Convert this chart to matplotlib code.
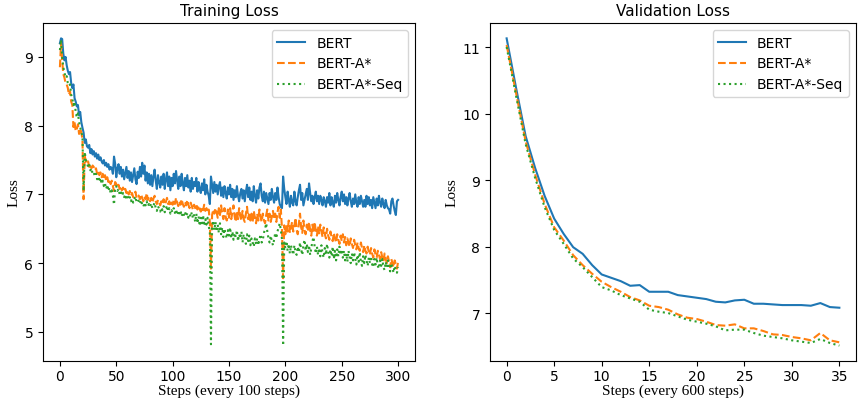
import matplotlib
matplotlib.use("Agg")
import matplotlib.pyplot as plt
import numpy as np

labels = ['BERT', 'BERT-A*', 'BERT-A*-Seq']
styles = ['-', '--', ':']

# training loss, one value per logged step (every 100 steps), steps 0..300
train_bert = [
    9.20, 9.27, 9.26, 9.05, 8.95, 9.00, 8.88, 8.80, 8.75, 8.78,
    8.62, 8.55, 8.60, 8.40, 8.35, 8.28, 8.30, 8.15, 8.20, 8.05,
    7.97, 7.90, 7.75, 7.80, 7.70, 7.68, 7.72, 7.60, 7.66, 7.58,
    7.63, 7.55, 7.60, 7.52, 7.58, 7.50, 7.54, 7.48, 7.45, 7.50,
    7.42, 7.46, 7.40, 7.44, 7.36, 7.40, 7.38, 7.30, 7.55, 7.45,
    7.25, 7.38, 7.44, 7.30, 7.40, 7.26, 7.36, 7.22, 7.31, 7.40,
    7.24, 7.34, 7.20, 7.32, 7.18, 7.28, 7.38, 7.22, 7.15, 7.33,
    7.24, 7.40, 7.26, 7.46, 7.30, 7.42, 7.20, 7.32, 7.16, 7.30,
    7.14, 7.28, 7.12, 7.26, 7.36, 7.20, 7.08, 7.28, 7.18, 7.10,
    7.26, 7.14, 7.30, 7.08, 7.22, 7.32, 7.12, 7.26, 7.06, 7.24,
    7.12, 7.30, 7.16, 7.34, 7.20, 7.08, 7.26, 7.12, 7.30, 7.16,
    7.06, 7.24, 7.12, 7.28, 7.10, 7.20, 7.04, 7.24, 7.08, 7.18,
    7.12, 7.24, 7.04, 7.18, 7.08, 7.02, 7.16, 7.06, 7.22, 7.00,
    7.14, 7.04, 6.98, 6.86, 7.26, 7.14, 7.02, 7.18, 7.04, 7.14,
    7.00, 7.12, 7.18, 6.98, 7.10, 6.96, 7.12, 7.02, 6.94, 7.10,
    7.00, 7.14, 6.96, 7.08, 6.92, 7.06, 6.96, 7.12, 6.98, 6.90,
    7.02, 7.08, 6.94, 7.06, 6.90, 7.04, 7.14, 6.96, 7.10, 6.92,
    7.04, 6.90, 7.12, 6.98, 6.88, 7.06, 6.94, 7.10, 7.16, 6.98,
    6.90, 7.04, 6.88, 7.02, 6.94, 6.86, 7.02, 6.92, 7.08, 6.96,
    6.88, 7.02, 6.92, 7.10, 6.96, 6.86, 6.82, 6.80, 7.26, 7.08,
    6.96, 6.86, 7.04, 6.92, 6.82, 6.98, 6.88, 6.84, 7.04, 6.90,
    6.84, 6.96, 7.06, 7.14, 6.92, 7.02, 6.84, 6.92, 7.00, 7.08,
    6.92, 7.16, 7.02, 6.90, 6.98, 6.86, 6.96, 7.04, 6.90, 6.98,
    6.86, 6.98, 6.92, 6.84, 6.96, 6.90, 6.82, 6.96, 6.88, 7.02,
    6.84, 6.96, 6.88, 6.82, 6.98, 6.88, 7.02, 6.92, 6.84, 6.96,
    7.04, 6.90, 7.00, 6.86, 6.96, 6.84, 6.94, 7.02, 6.90, 6.82,
    6.94, 6.86, 7.00, 6.88, 6.82, 6.96, 6.86, 6.98, 6.90, 6.82,
    6.92, 6.82, 6.98, 6.86, 6.96, 6.84, 6.92, 6.80, 6.96, 6.88,
    6.80, 6.94, 6.84, 6.98, 6.88, 6.82, 6.94, 6.86, 6.80, 6.92,
    6.84, 6.80, 6.78, 6.72, 6.90, 6.94, 6.84, 6.76, 6.70, 6.90,
    6.92,
]
train_astar = [
    8.85, 9.20, 8.95, 8.75, 8.70, 8.62, 8.60, 8.55, 8.45, 8.50,
    8.35, 8.30, 7.98, 8.05, 7.92, 7.95, 8.02, 7.88, 7.96, 7.90,
    7.80, 6.93, 7.55, 7.50, 7.45, 7.48, 7.40, 7.44, 7.38, 7.42,
    7.40, 7.35, 7.38, 7.30, 7.34, 7.28, 7.32, 7.25, 7.30, 7.22,
    7.28, 7.20, 7.25, 7.18, 7.22, 7.15, 7.20, 7.12, 7.05, 7.18,
    7.15, 7.10, 7.14, 7.08, 7.12, 7.06, 7.10, 7.04, 7.08, 7.02,
    7.06, 7.00, 7.05, 6.98, 7.02, 6.96, 7.00, 7.04, 6.95, 6.99,
    6.98, 6.93, 7.00, 6.95, 6.90, 6.97, 6.93, 7.02, 6.92, 6.96,
    6.90, 6.95, 6.88, 6.94, 6.98, 6.90, 6.86, 6.92, 6.88, 6.84,
    6.90, 6.86, 6.93, 6.85, 6.89, 6.95, 6.86, 6.90, 6.83, 6.88,
    6.85, 6.92, 6.86, 6.95, 6.88, 6.83, 6.90, 6.85, 6.93, 6.86,
    6.82, 6.89, 6.84, 6.92, 6.85, 6.80, 6.88, 6.83, 6.78, 6.85,
    6.80, 6.86, 6.78, 6.84, 6.79, 6.75, 6.82, 6.77, 6.85, 6.76,
    6.80, 6.74, 6.78, 6.60, 5.92, 6.70, 6.78, 6.72, 6.80, 6.74,
    6.66, 6.80, 6.70, 6.84, 6.72, 6.64, 6.80, 6.68, 6.62, 6.78,
    6.66, 6.80, 6.64, 6.74, 6.84, 6.68, 6.60, 6.76, 6.64, 6.80,
    6.68, 6.62, 6.76, 6.64, 6.60, 6.72, 6.82, 6.64, 6.74, 6.62,
    6.72, 6.60, 6.76, 6.66, 6.58, 6.72, 6.62, 6.78, 6.66, 6.60,
    6.72, 6.62, 6.58, 6.70, 6.78, 6.62, 6.72, 6.60, 6.68, 6.76,
    6.64, 6.72, 6.60, 6.74, 6.82, 6.66, 6.78, 6.50, 5.78, 6.55,
    6.42, 6.56, 6.46, 6.62, 6.44, 6.52, 6.60, 6.46, 6.54, 6.66,
    6.48, 6.42, 6.58, 6.72, 6.52, 6.44, 6.62, 6.48, 6.42, 6.56,
    6.46, 6.60, 6.48, 6.40, 6.56, 6.44, 6.60, 6.46, 6.40, 6.54,
    6.42, 6.56, 6.46, 6.38, 6.52, 6.42, 6.36, 6.50, 6.40, 6.34,
    6.46, 6.38, 6.32, 6.44, 6.36, 6.30, 6.42, 6.34, 6.28, 6.40,
    6.32, 6.42, 6.30, 6.38, 6.26, 6.36, 6.30, 6.24, 6.36, 6.28,
    6.22, 6.34, 6.26, 6.20, 6.30, 6.22, 6.18, 6.30, 6.22, 6.16,
    6.26, 6.18, 6.14, 6.24, 6.16, 6.12, 6.22, 6.14, 6.08, 6.20,
    6.12, 6.08, 6.18, 6.12, 6.06, 6.16, 6.08, 6.02, 6.14, 6.06,
    6.00, 6.10, 6.02, 5.94, 6.06, 6.00, 5.94, 6.04, 5.98, 5.92,
    6.02,
]
train_astar_seq = [
    9.10, 9.25, 9.00, 8.85, 8.78, 8.70, 8.72, 8.62, 8.58, 8.60,
    8.45, 8.40, 8.30, 8.35, 8.20, 8.12, 8.18, 8.05, 7.98, 7.90,
    7.85, 7.05, 7.62, 7.50, 7.46, 7.40, 7.44, 7.35, 7.38, 7.30,
    7.32, 7.26, 7.30, 7.22, 7.26, 7.18, 7.24, 7.15, 7.20, 7.12,
    7.16, 7.08, 7.14, 7.05, 7.10, 7.02, 7.06, 6.98, 6.85, 7.10,
    7.12, 7.05, 7.08, 7.00, 7.04, 6.98, 7.02, 6.96, 7.00, 6.94,
    6.98, 6.92, 6.96, 6.90, 6.94, 6.88, 6.93, 6.97, 6.89, 6.92,
    6.90, 6.86, 6.92, 6.85, 6.82, 6.88, 6.84, 6.90, 6.83, 6.86,
    6.82, 6.87, 6.80, 6.84, 6.88, 6.80, 6.76, 6.83, 6.79, 6.75,
    6.81, 6.77, 6.83, 6.74, 6.79, 6.84, 6.75, 6.80, 6.72, 6.77,
    6.74, 6.80, 6.73, 6.78, 6.70, 6.75, 6.71, 6.77, 6.68, 6.74,
    6.70, 6.75, 6.68, 6.73, 6.66, 6.71, 6.67, 6.74, 6.65, 6.70,
    6.60, 6.72, 6.58, 6.68, 6.54, 6.66, 6.58, 6.70, 6.54, 6.64,
    6.56, 6.66, 6.54, 6.45, 4.82, 6.52, 6.62, 6.48, 6.60, 6.46,
    6.56, 6.44, 6.58, 6.42, 6.52, 6.38, 6.50, 6.42, 6.36, 6.48,
    6.40, 6.52, 6.36, 6.46, 6.34, 6.44, 6.38, 6.48, 6.32, 6.42,
    6.36, 6.46, 6.30, 6.42, 6.34, 6.28, 6.42, 6.32, 6.40, 6.26,
    6.36, 6.30, 6.24, 6.36, 6.28, 6.36, 6.26, 6.34, 6.42, 6.30,
    6.34, 6.44, 6.50, 6.58, 6.46, 6.36, 6.30, 6.40, 6.32, 6.26,
    6.34, 6.44, 6.36, 6.46, 6.52, 6.58, 6.48, 6.35, 4.80, 6.30,
    6.22, 6.32, 6.18, 6.28, 6.14, 6.26, 6.18, 6.12, 6.26, 6.16,
    6.12, 6.24, 6.16, 6.30, 6.20, 6.12, 6.26, 6.34, 6.18, 6.28,
    6.16, 6.26, 6.12, 6.22, 6.32, 6.38, 6.24, 6.14, 6.24, 6.12,
    6.22, 6.10, 6.26, 6.14, 6.08, 6.22, 6.12, 6.28, 6.16, 6.08,
    6.20, 6.10, 6.24, 6.06, 6.18, 6.04, 6.20, 6.10, 6.24, 6.12,
    6.20, 6.08, 6.18, 6.04, 6.14, 6.02, 6.18, 6.08, 6.00, 6.14,
    6.04, 6.16, 6.06, 5.98, 6.12, 6.02, 6.16, 6.02, 5.96, 6.10,
    6.00, 6.12, 6.04, 5.96, 6.08, 6.00, 6.10, 5.98, 5.94, 6.06,
    5.98, 6.08, 5.96, 5.92, 6.04, 5.96, 6.06, 5.94, 5.90, 6.02,
    5.94, 6.04, 5.92, 5.88, 6.00, 5.92, 5.86, 5.96, 5.90, 5.86,
    5.94,
]

# validation loss, every 600 steps, steps 0..35
val_bert = [
    11.13, 10.38, 9.66, 9.18, 8.76, 8.42, 8.19, 7.99, 7.89, 7.72,
    7.58, 7.53, 7.48, 7.41, 7.42, 7.32, 7.32, 7.32, 7.27, 7.25,
    7.23, 7.21, 7.17, 7.16, 7.19, 7.20, 7.14, 7.14, 7.13, 7.12,
    7.12, 7.12, 7.11, 7.15, 7.09, 7.08,
]
val_astar = [
    11.03, 10.30, 9.58, 9.08, 8.64, 8.29, 8.09, 7.87, 7.72, 7.59,
    7.47, 7.39, 7.32, 7.24, 7.19, 7.11, 7.09, 7.05, 6.98, 6.93,
    6.91, 6.87, 6.82, 6.81, 6.83, 6.77, 6.77, 6.73, 6.68, 6.67,
    6.64, 6.62, 6.59, 6.70, 6.59, 6.56,
]
val_astar_seq = [
    11.00, 10.26, 9.54, 9.03, 8.59, 8.25, 8.04, 7.82, 7.69, 7.54,
    7.39, 7.34, 7.27, 7.22, 7.17, 7.05, 7.02, 7.00, 6.95, 6.90,
    6.87, 6.84, 6.80, 6.74, 6.75, 6.75, 6.70, 6.66, 6.64, 6.62,
    6.59, 6.57, 6.55, 6.61, 6.55, 6.51,
]

serif = {'family': 'Liberation Serif', 'size': 11}

fig = plt.figure(figsize=(8.59, 4.02), dpi=100)
ax1 = fig.add_axes([43 / 859, 40 / 402, 372 / 859, 338 / 402])
ax2 = fig.add_axes([490 / 859, 40 / 402, 366 / 859, 338 / 402])

for ys, lab, ls in zip([train_bert, train_astar, train_astar_seq], labels, styles):
    ax1.plot(np.arange(len(ys)), ys, ls, label=lab)
for ys, lab, ls in zip([val_bert, val_astar, val_astar_seq], labels, styles):
    ax2.plot(np.arange(len(ys)), ys, ls, label=lab)

ax1.set_title('Training Loss', fontsize=11)
ax1.set_xlabel('Steps (every 100 steps)', fontdict=serif, labelpad=0)
ax1.set_ylabel('Loss', fontdict=serif, labelpad=3)
ax1.legend(loc='upper right')

ax2.set_title('Validation Loss', fontsize=11)
ax2.set_xlabel('Steps (every 600 steps)', fontdict=serif, labelpad=0)
ax2.set_ylabel('Loss', fontdict=serif, labelpad=3)
ax2.legend(loc='upper right')

for ax in (ax1, ax2):
    ax.tick_params(axis='x', pad=2.5)

fig.savefig('out.png', dpi=100)
